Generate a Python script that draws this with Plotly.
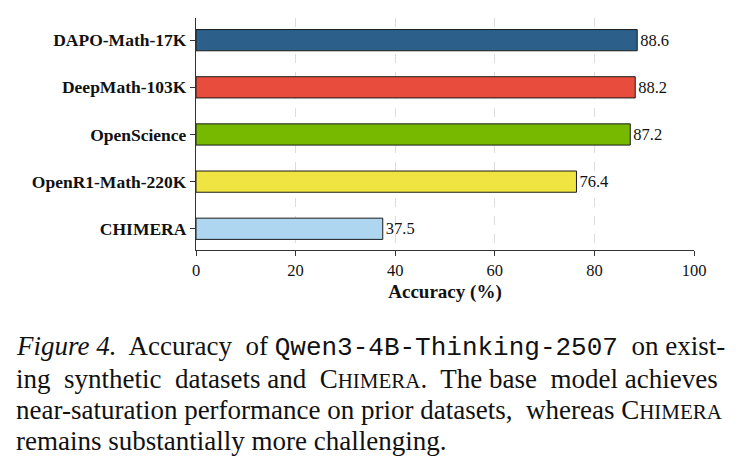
import plotly.graph_objects as go

datasets = ["CHIMERA", "OpenR1-Math-220K", "OpenScience", "DeepMath-103K", "DAPO-Math-17K"]
accuracy = [37.5, 76.4, 87.2, 88.2, 88.6]
colors = ["#AED6F1", "#F0E442", "#76B900", "#E74C3C", "#2C5F8A"]
x_ticks = [0, 20, 40, 60, 80, 100]

SERIF = "Liberation Serif, Times New Roman, serif"
MONO = "Liberation Mono, Courier New, monospace"

fig = go.Figure()
fig.add_trace(go.Bar(
    y=datasets, x=accuracy, orientation="h",
    marker=dict(color=colors, line=dict(color="#1a1a1a", width=1)),
    width=0.45,
    text=[f"{v:.1f}" for v in accuracy], textposition="outside",
    constraintext="none",
    textfont=dict(family=SERIF, size=16.5, color="#111"),
    cliponaxis=False,
))

fig.update_layout(
    width=739, height=467,
    margin=dict(l=196, r=45, t=18, b=217),
    plot_bgcolor="white", paper_bgcolor="white",
    showlegend=False,
    font=dict(family=SERIF, color="#111"),
    xaxis=dict(
        range=[0, 100], tickvals=x_ticks, ticktext=[str(t) for t in x_ticks],
        showgrid=True, gridcolor="#dddddd", griddash="dash", gridwidth=1,
        showline=True, linecolor="#333", linewidth=1.2,
        ticks="outside", ticklen=5, tickcolor="#333",
        tickfont=dict(family=SERIF, size=16.5, color="#111"),
        title=dict(text="<b>Accuracy (%)</b>", font=dict(family=SERIF, size=19, color="#111"), standoff=5),
        zeroline=False,
    ),
    yaxis=dict(
        range=[-0.45, 4.47],
        showline=True, linecolor="#333", linewidth=1.2,
        ticks="outside", ticklen=5, tickcolor="#333",
        tickfont=dict(family=SERIF, size=17.5, color="#111"),
        showgrid=False, zeroline=False,
        tickvals=datasets, ticktext=[f"<b>{d}</b>" for d in datasets],
    ),
)

sc = '<span style="font-size:21px">HIMERA</span>'
caption_lines = [
    f'<i>Figure 4.</i>  Accuracy  of <span style="font-family:{MONO};font-size:26px">Qwen3-4B-Thinking-2507</span>  on exist-',
    f'ing  synthetic  datasets and  C{sc}.  The base  model achieves',
    f'near-saturation performance on prior datasets,  whereas C{sc}',
    'remains substantially more challenging.',
]
plot_h = 467 - 18 - 217
line_tops = [347, 379, 410, 441]
for txt, yc in zip(caption_lines, line_tops):
    ypaper = (467 - 217 - yc) / plot_h
    fig.add_annotation(
        text=txt, xref="paper", yref="paper",
        x=(15 - 196) / (739 - 196 - 45), y=ypaper,
        xanchor="left", yanchor="middle", showarrow=False, borderpad=0,
        font=dict(family=SERIF, size=27, color="#111"),
    )

fig.write_html("out.html")
